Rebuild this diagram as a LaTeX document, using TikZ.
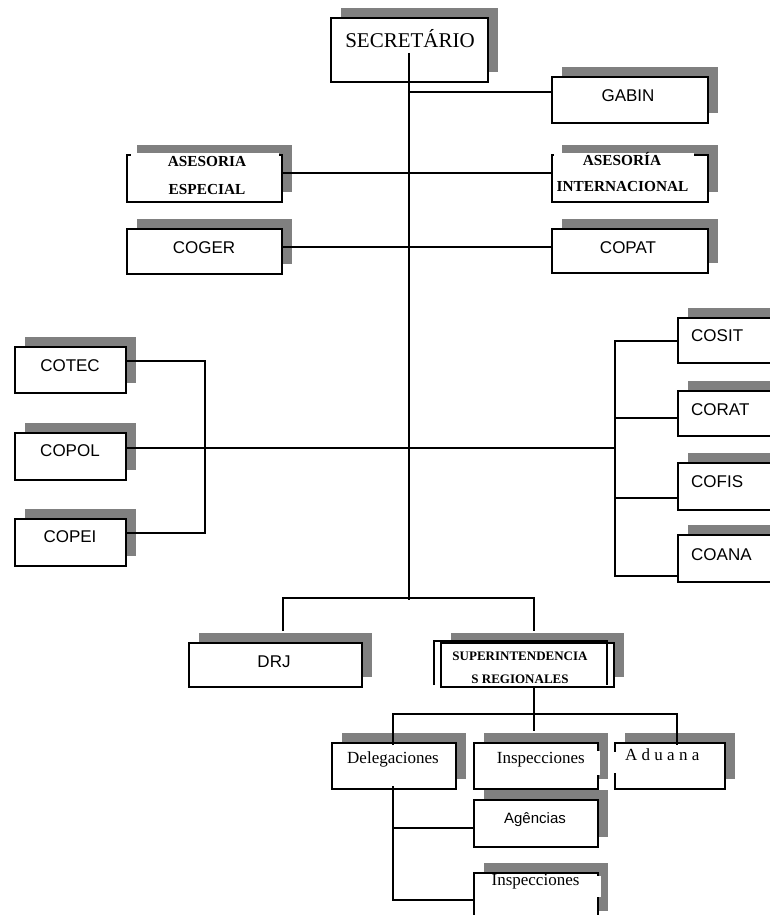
\documentclass[tikz,border=0pt]{standalone}
\usepackage{fontspec}
\setmainfont{Liberation Serif}
\newfontfamily\arialfont{Liberation Sans}
\usetikzlibrary{shadows}
\definecolor{shadegray}{RGB}{128,128,128}
\tikzset{
  orgbox/.style={draw=black, line width=1.8pt, fill=white, inner sep=0pt,
    drop shadow={shadow xshift=10pt, shadow yshift=10pt, fill=shadegray, opacity=1}},
  link/.style={line width=1.6pt},
  sanslbl/.style={inner sep=0pt, anchor=base, font={\arialfont\fontsize{17}{20}\selectfont}},
  seriflbl/.style={inner sep=0pt, anchor=base, font={\fontsize{17}{20}\selectfont}},
  boldlbl/.style={inner sep=0pt, anchor=base, font={\bfseries\fontsize{15.3}{18}\selectfont}},
  smallbold/.style={inner sep=0pt, anchor=base, font={\bfseries\fontsize{13}{16}\selectfont}},
}
\begin{document}
\begin{tikzpicture}[x=1pt,y=-1pt]
\useasboundingbox (0,0) rectangle (770,915);
\clip (0,0) rectangle (770,915);
\fill[white] (0,0) rectangle (770,915);

% ---- boxes ----
\node[orgbox, minimum width=157pt, minimum height=64pt] (sec)   at (409.5,50)  {};
\node[orgbox, minimum width=156pt, minimum height=46pt] (gabin) at (630,100)   {};
\node[orgbox, minimum width=156pt, minimum height=47pt] (asint) at (630,178.5) {};
\node[orgbox, minimum width=156pt, minimum height=44pt] (copat) at (630,251)   {};
\node[orgbox, minimum width=155pt, minimum height=47pt] (asesp) at (204.5,178.5) {};
\node[orgbox, minimum width=155pt, minimum height=45pt] (coger) at (204.5,251.5) {};

\node[orgbox, minimum width=111pt, minimum height=46pt] (cotec) at (70.5,370)   {};
\node[orgbox, minimum width=111pt, minimum height=47pt] (copol) at (70.5,456.5) {};
\node[orgbox, minimum width=111pt, minimum height=47pt] (copei) at (70.5,542.5) {};

\node[orgbox, minimum width=112pt, minimum height=45pt] (cosit) at (734,340.5) {};
\node[orgbox, minimum width=112pt, minimum height=45pt] (corat) at (734,413.5) {};
\node[orgbox, minimum width=112pt, minimum height=47pt] (cofis) at (734,486.5) {};
\node[orgbox, minimum width=112pt, minimum height=47pt] (coana) at (734,558.5) {};

\node[orgbox, minimum width=173pt, minimum height=44pt] (drj) at (275.5,665) {};
\node[orgbox, minimum width=173pt, minimum height=44pt] (sup) at (527.5,665) {};

\node[orgbox, minimum width=124pt, minimum height=46pt] (deleg)  at (394,766)   {};
\node[orgbox, minimum width=124pt, minimum height=46pt] (insp1)  at (536,766)   {};
\node[orgbox, minimum width=110pt, minimum height=46pt] (aduana) at (670,766)   {};
\node[orgbox, minimum width=124pt, minimum height=47pt] (agenc)  at (536,823.5) {};
\node[orgbox, minimum width=124pt, minimum height=48pt] (insp2)  at (536,897)   {};

% ---- white text panels laid over some frames ----
\fill[white] (131,153.2) rectangle (279,200.5);
\fill[white] (553.5,153.2) rectangle (694,199);
\fill[white] (478,751) rectangle (600,775);
\fill[white] (612,752) rectangle (617,773);
\fill[white] (478,876) rectangle (601,897);
% open frame round the regional block title
\draw[line width=1.8pt] (434,685) -- (434,641) -- (607,641) -- (607,685);

% ---- junction points ----
\coordinate (trunktop) at (409,53);
\coordinate (trunkbot) at (409,600);
\coordinate (jg) at (409,92);
\coordinate (ja) at (409,173);
\coordinate (jc) at (409,247);
\coordinate (lb) at (205,448);
\coordinate (rb) at (615,448);
\coordinate (jr1) at (615,341);
\coordinate (jr2) at (615,418);
\coordinate (jr3) at (615,498);
\coordinate (jr4) at (615,576);
\coordinate (tb) at (409,598);
\coordinate (hb) at (534,714);
\coordinate (jag) at (393,828);

% ---- connectors ----
\draw[link] (trunktop) -- (trunkbot);
\draw[link] (jg) -- (jg -| gabin.west);
\draw[link] (ja -| asesp.east) -- (ja -| asint.west);
\draw[link] (jc -| coger.east) -- (jc -| copat.west);
\draw[link] ([yshift=9pt]cotec.east) -| (lb) |- ([yshift=9.5pt]copei.east);
\draw[link] ([yshift=8.5pt]copol.east) -- (rb);
\draw[link] (jr1 -| cosit.west) -- (jr1) -- (jr4) -- (jr4 -| coana.west);
\draw[link] (jr2) -- (jr2 -| corat.west);
\draw[link] (jr3) -- (jr3 -| cofis.west);
\draw[link] ([xshift=7.5pt,yshift=11pt]drj.north) |- (tb) -| ([xshift=6.5pt,yshift=11pt]sup.north);
\draw[link] ([xshift=6.5pt]sup.south) -- (hb);
\draw[link] ([xshift=-1pt,yshift=-3pt]deleg.north) |- (hb) -| ([xshift=7pt,yshift=-3pt]aduana.north);
\draw[link] (hb) -- ([xshift=-2pt,yshift=11pt]insp1.north);
\draw[link] ([xshift=-1pt,yshift=4pt]deleg.south) |- ([yshift=-3pt]insp2.west);
\draw[link] (jag) -- (jag -| agenc.west);

% ---- labels ----
\node[seriflbl, font={\fontsize{21}{24}\selectfont}] (t-sec) at (410,47.5) {SECRETÁRIO};
\node[sanslbl] (t-gabin) at (628,101.5) {GABIN};
\node[boldlbl] (t-asint1) at (622,165) {ASESORÍA};
\node[boldlbl] (t-asint2) at (622.5,191.7) {INTERNACIONAL};
\node[sanslbl] (t-copat) at (628,253.3) {COPAT};
\node[boldlbl] (t-asesp1) at (207,166.7) {ASESORIA};
\node[boldlbl] (t-asesp2) at (207,194.3) {ESPECIAL};
\node[sanslbl] (t-coger) at (204,253.3) {COGER};
\node[sanslbl] (t-cotec) at (70,371) {COTEC};
\node[sanslbl] (t-copol) at (70,456.7) {COPOL};
\node[sanslbl] (t-copei) at (70,542.7) {COPEI};
\node[sanslbl, anchor=base west] (t-cosit) at (691,341.7) {COSIT};
\node[sanslbl, anchor=base west] (t-corat) at (691,415) {CORAT};
\node[sanslbl, anchor=base west] (t-cofis) at (691,487.3) {COFIS};
\node[sanslbl, anchor=base west] (t-coana) at (691,560) {COANA};
\node[sanslbl] (t-drj) at (274,667.3) {DRJ};
\node[smallbold] (t-sup1) at (520,660) {SUPERINTENDENCIA};
\node[smallbold] (t-sup2) at (520,683.3) {S REGIONALES};
\node[seriflbl] (t-deleg) at (393,763.3) {Delegaciones};
\node[seriflbl] (t-insp1) at (540.8,763.3) {Inspecciones};
\node[seriflbl, anchor=base west] (t-aduana) at (625,760.7) {A d u a n a};
\node[sanslbl, font={\arialfont\fontsize{15}{18}\selectfont}] (t-agenc) at (535,823.3) {Agências};
\node[seriflbl] (t-insp2) at (535.5,885) {Inspecciones};
\end{tikzpicture}
\end{document}
